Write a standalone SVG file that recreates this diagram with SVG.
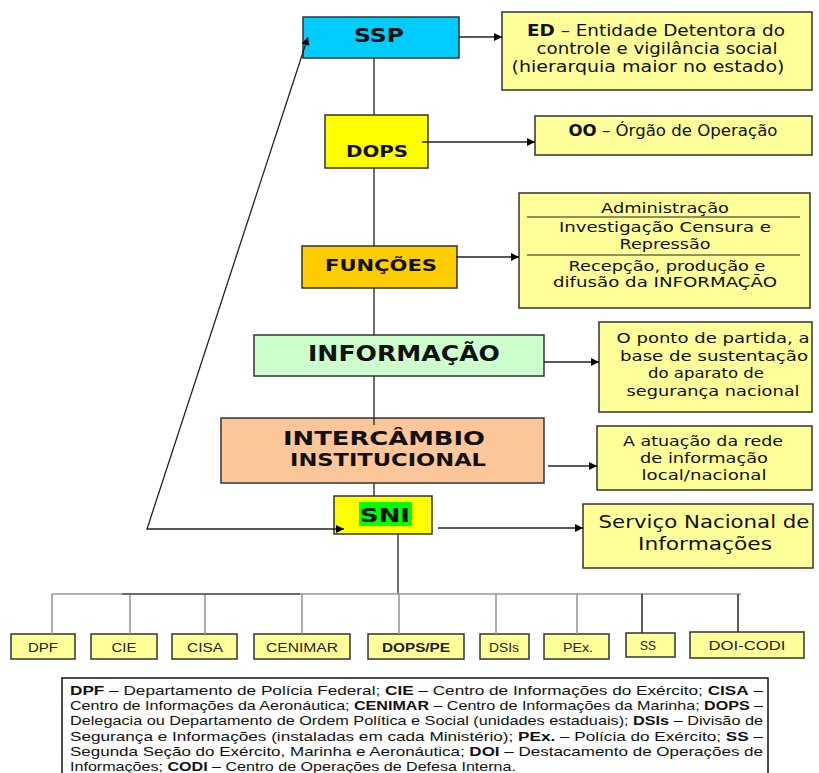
<svg xmlns="http://www.w3.org/2000/svg" width="819" height="773" viewBox="0 0 819 773">
<defs>
<marker id="ah" viewBox="0 0 10 10" refX="10" refY="5" markerWidth="9" markerHeight="8" markerUnits="userSpaceOnUse" orient="auto-start-reverse">
<path d="M0,0 L10,5 L0,10 z" fill="#000"/>
</marker>
<style>
.box{stroke:#333;stroke-width:1.5}
.side{fill:#FFFF99;stroke:#333;stroke-width:1.5}
.sm{fill:#FFFF99;stroke:#333;stroke-width:1.5}
.t{font-family:"DejaVu Sans",Verdana,sans-serif;fill:#111}
.b{font-weight:bold}
.g{font-family:"Liberation Sans",Arial,sans-serif;fill:#222;font-size:12.5px}
.lg{font-family:"Liberation Sans",Arial,sans-serif;fill:#111;font-size:13px}
.ln{fill:none;stroke:#222;stroke-width:1.3}
.bus{fill:none;stroke:#999;stroke-width:1.6}
</style>
</defs>
<rect width="819" height="773" fill="#fff"/>

<g id="n-ssp"><rect class="box" x="303" y="17" width="156" height="41" fill="#00CCFF"/>
<text class="t b" x="379" y="42" font-size="20" text-anchor="middle" textLength="50" lengthAdjust="spacingAndGlyphs">SSP</text></g>
<g id="n-ed"><rect class="side" x="502" y="12" width="310" height="78"/>
<text class="t" font-size="15" text-anchor="middle"><tspan x="656" y="36" textLength="258" lengthAdjust="spacingAndGlyphs"><tspan class="b">ED</tspan> – Entidade Detentora do</tspan></text>
<text class="t" font-size="15" x="657" y="54" text-anchor="middle" textLength="241" lengthAdjust="spacingAndGlyphs">controle e vigilância social</text>
<text class="t" font-size="15" x="648" y="72" text-anchor="middle" textLength="273" lengthAdjust="spacingAndGlyphs">(hierarquia maior no estado)</text></g>

<g id="n-dops"><rect class="box" x="325" y="115" width="103" height="53" fill="#FFFF00"/>
<text class="t b" x="377" y="157" font-size="16" text-anchor="middle" textLength="62" lengthAdjust="spacingAndGlyphs">DOPS</text></g>
<g id="n-oo"><rect class="side" x="535" y="116" width="277" height="39"/>
<text class="t" font-size="15" x="673" y="136" text-anchor="middle" textLength="209" lengthAdjust="spacingAndGlyphs"><tspan class="b">OO</tspan> – Órgão de Operação</text></g>

<g id="n-funcoes"><rect class="box" x="302" y="246" width="155" height="42" fill="#FFCC00"/>
<text class="t b" x="381" y="271" font-size="16" text-anchor="middle" textLength="112" lengthAdjust="spacingAndGlyphs">FUNÇÕES</text></g>
<g id="n-funcs"><rect class="side" x="519" y="193" width="291" height="115"/>
<text class="t" font-size="14" x="665" y="213" text-anchor="middle" textLength="128" lengthAdjust="spacingAndGlyphs">Administração</text>
<line x1="527" y1="217" x2="800" y2="217" stroke="#222" stroke-width="1.2"/>
<text class="t" font-size="14" x="665" y="232" text-anchor="middle" textLength="212" lengthAdjust="spacingAndGlyphs">Investigação Censura e</text>
<text class="t" font-size="14" x="665" y="249" text-anchor="middle" textLength="91" lengthAdjust="spacingAndGlyphs">Repressão</text>
<line x1="527" y1="255" x2="800" y2="255" stroke="#222" stroke-width="1.2"/>
<text class="t" font-size="14" x="667" y="271" text-anchor="middle" textLength="197" lengthAdjust="spacingAndGlyphs">Recepção, produção e</text>
<text class="t" font-size="14" x="665" y="287" text-anchor="middle" textLength="224" lengthAdjust="spacingAndGlyphs">difusão da INFORMAÇÃO</text></g>

<g id="n-informacao"><rect class="box" x="254" y="335" width="290" height="41" fill="#CCFFCC"/>
<text class="t b" x="404" y="361" font-size="21" text-anchor="middle" textLength="192" lengthAdjust="spacingAndGlyphs">INFORMAÇÃO</text></g>
<g id="n-info-side"><rect class="side" x="599" y="322" width="213" height="90"/>
<text class="t" font-size="14" x="713" y="343" text-anchor="middle" textLength="193" lengthAdjust="spacingAndGlyphs">O ponto de partida, a</text>
<text class="t" font-size="14" x="714" y="361" text-anchor="middle" textLength="188" lengthAdjust="spacingAndGlyphs">base de sustentação</text>
<text class="t" font-size="14" x="706" y="378" text-anchor="middle" textLength="116" lengthAdjust="spacingAndGlyphs">do aparato de</text>
<text class="t" font-size="14" x="713" y="396" text-anchor="middle" textLength="173" lengthAdjust="spacingAndGlyphs">segurança nacional</text></g>

<g id="n-intercambio"><rect class="box" x="221" y="418" width="323" height="65" fill="#FBC79A"/>
<text class="t b" x="384" y="445" font-size="20" text-anchor="middle" textLength="202" lengthAdjust="spacingAndGlyphs">INTERCÂMBIO</text>
<text class="t b" x="388" y="466" font-size="17" text-anchor="middle" textLength="196" lengthAdjust="spacingAndGlyphs">INSTITUCIONAL</text></g>
<g id="n-inter-side"><rect class="side" x="597" y="426" width="215" height="64"/>
<text class="t" font-size="14" x="703" y="446" text-anchor="middle" textLength="160" lengthAdjust="spacingAndGlyphs">A atuação da rede</text>
<text class="t" font-size="14" x="704" y="463" text-anchor="middle" textLength="128" lengthAdjust="spacingAndGlyphs">de informação</text>
<text class="t" font-size="14" x="704" y="480" text-anchor="middle" textLength="125" lengthAdjust="spacingAndGlyphs">local/nacional</text></g>

<g id="n-sni"><rect class="box" x="334" y="496" width="98" height="38" fill="#FFFF00"/>
<rect x="359" y="502" width="53" height="24" fill="#00FF00"/>
<text class="t b" x="385" y="522" font-size="20" text-anchor="middle" textLength="50" lengthAdjust="spacingAndGlyphs">SNI</text></g>
<g id="n-sni-side"><rect class="side" x="583" y="504" width="230" height="64"/>
<text class="t" font-size="18" x="704" y="528" text-anchor="middle" textLength="211" lengthAdjust="spacingAndGlyphs">Serviço Nacional de</text>
<text class="t" font-size="18" x="705" y="550" text-anchor="middle" textLength="134" lengthAdjust="spacingAndGlyphs">Informações</text></g>

<g id="n-dpf"><rect class="sm" x="11" y="634" width="64" height="25"/><text class="g" x="43" y="652" text-anchor="middle" textLength="30" lengthAdjust="spacingAndGlyphs">DPF</text></g>
<g id="n-cie"><rect class="sm" x="91" y="634" width="66" height="25"/><text class="g" x="124" y="652" text-anchor="middle" textLength="25" lengthAdjust="spacingAndGlyphs">CIE</text></g>
<g id="n-cisa"><rect class="sm" x="172" y="634" width="65" height="25"/><text class="g" x="205" y="652" text-anchor="middle" textLength="36" lengthAdjust="spacingAndGlyphs">CISA</text></g>
<g id="n-cenimar"><rect class="sm" x="254" y="634" width="96" height="25"/><text class="g" x="302" y="652" text-anchor="middle" textLength="72" lengthAdjust="spacingAndGlyphs">CENIMAR</text></g>
<g id="n-dopspe"><rect class="sm" x="368" y="634" width="96" height="25"/><text class="g b" x="416" y="652" text-anchor="middle" textLength="68" lengthAdjust="spacingAndGlyphs">DOPS/PE</text></g>
<g id="n-dsis"><rect class="sm" x="480" y="634" width="49" height="25"/><text class="g" x="504" y="652" text-anchor="middle" textLength="30" lengthAdjust="spacingAndGlyphs">DSIs</text></g>
<g id="n-pex"><rect class="sm" x="544" y="634" width="65" height="25"/><text class="g" x="578" y="652" text-anchor="middle" textLength="30" lengthAdjust="spacingAndGlyphs">PEx.</text></g>
<g id="n-ss"><rect class="sm" x="626" y="633" width="49" height="24"/><text class="g" x="648" y="650" text-anchor="middle" textLength="16" lengthAdjust="spacingAndGlyphs">SS</text></g>
<g id="n-doicodi"><rect class="sm" x="690" y="632" width="114" height="26"/><text class="g" x="747" y="650" text-anchor="middle" textLength="77" lengthAdjust="spacingAndGlyphs">DOI-CODI</text></g>

<g id="connectors">
<path class="ln" d="M374,58 V115 M374,168 V246 M374,288 V335 M374,376 V425 M374,483 V496 M398,534 V594"/>
<path class="ln" d="M459,37 H502" marker-end="url(#ah)"/>
<path class="ln" d="M422,142 H535" marker-end="url(#ah)"/>
<path class="ln" d="M456,257 H519" stroke="#555" marker-end="url(#ah)"/>
<path class="ln" d="M544,362 H599" stroke="#666" marker-end="url(#ah)"/>
<path class="ln" d="M548,466 H597" marker-end="url(#ah)"/>
<path class="ln" d="M438,528 H583" stroke="#666" marker-end="url(#ah)"/>
<path class="ln" d="M344,529 H147 L308,37" marker-start="url(#ah)" marker-end="url(#ah)"/>
<path class="bus" d="M52,594 H741 M52,594 V634 M130,594 V634 M205,594 V634 M302,594 V634 M399,594 V634 M496,594 V634 M577,594 V634"/>
<path d="M122,594 H300" stroke="#555" stroke-width="1.6" fill="none"/>
<path d="M642,594 V633 M738,594 V632" stroke="#333" stroke-width="1.6" fill="none"/>
</g>

<g id="legend">
<path d="M62,773 V678 H768 V773" fill="none" stroke="#111" stroke-width="1.5"/>
<text class="lg" x="70" y="695" textLength="693" lengthAdjust="spacingAndGlyphs"><tspan class="b">DPF</tspan> – Departamento de Polícia Federal; <tspan class="b">CIE</tspan> – Centro de Informações do Exército; <tspan class="b">CISA</tspan> –</text>
<text class="lg" x="70" y="710" textLength="693" lengthAdjust="spacingAndGlyphs">Centro de Informações da Aeronáutica; <tspan class="b">CENIMAR</tspan> – Centro de Informações da Marinha; <tspan class="b">DOPS</tspan> –</text>
<text class="lg" x="70" y="725" textLength="693" lengthAdjust="spacingAndGlyphs">Delegacia ou Departamento de Ordem Política e Social (unidades estaduais); <tspan class="b">DSIs</tspan> – Divisão de</text>
<text class="lg" x="70" y="741" textLength="693" lengthAdjust="spacingAndGlyphs">Segurança e Informações (instaladas em cada Ministério); <tspan class="b">PEx.</tspan> – Polícia do Exército; <tspan class="b">SS</tspan> –</text>
<text class="lg" x="70" y="756" textLength="693" lengthAdjust="spacingAndGlyphs">Segunda Seção do Exército, Marinha e Aeronáutica; <tspan class="b">DOI</tspan> – Destacamento de Operações de</text>
<text class="lg" x="70" y="771" textLength="446" lengthAdjust="spacingAndGlyphs">Informações; <tspan class="b">CODI</tspan> – Centro de Operações de Defesa Interna.</text>
</g>
</svg>
